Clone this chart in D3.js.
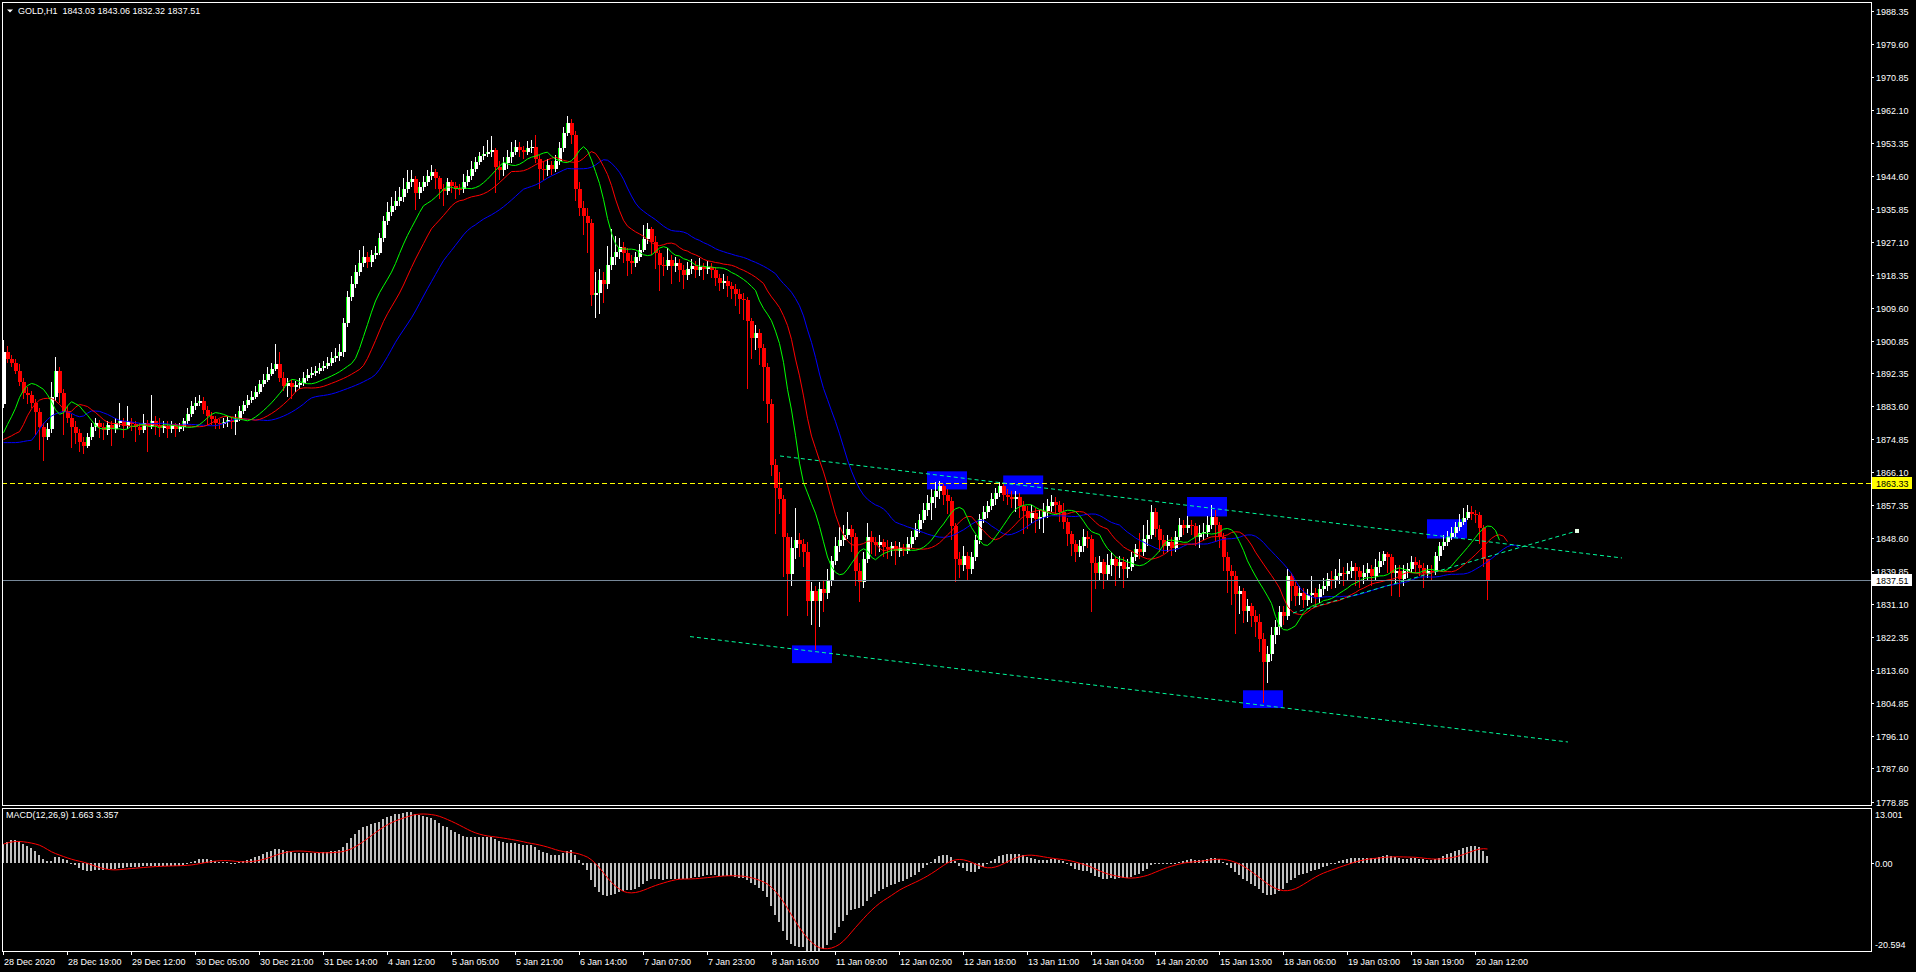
<!DOCTYPE html>
<html><head><meta charset="utf-8">
<script src="https://cdn.jsdelivr.net/npm/d3@7"></script>
<style>html,body{margin:0;padding:0;background:#000;overflow:hidden}text{font-family:"Liberation Sans",Arial,sans-serif;font-size:9px}</style>
</head><body>
<svg id="chart" width="1916" height="972"></svg>
<script>
// ---------------- DATA ----------------
const symbolTitle = "GOLD,H1  1843.03 1843.06 1832.32 1837.51";
const macdTitle = "MACD(12,26,9) 1.663 3.357";

const opens = [
1884,1898,1896,1895,1893,1890,1887,1886.5,1884.5,1882,
1878,1875.5,1877.5,1886,1893,1887,1882,1880.5,1878,1876.5,
1874,1873,1875.5,1878,1879,1878,1877.2,1878.5,1877.5,1879,
1879.5,1878.3,1879.3,1878.8,1878,1877.3,1879,1878.2,1879.6,1878.5,
1877.8,1878.4,1877.6,1878.2,1877.4,1878,1879.5,1881.5,1883.5,1884.5,
1885,1882.5,1881,1880.2,1879.2,1878.8,1879.4,1879.8,1879.3,1880.2,
1882.2,1883.8,1885.2,1886,1887.4,1889.3,1890.6,1892.2,1893.5,1894.6,
1891,1889,1889.8,1888.5,1889.2,1889.8,1891,1891.8,1892.4,1892.8,
1893.6,1894.2,1895,1896.2,1896.8,1897.8,1905.5,1912.6,1916,1919,
1921.6,1923,1921.8,1923.5,1924.2,1928,1932.5,1935,1936.5,1938,
1939,1941,1943,1943.6,1940,1941.5,1943,1944.5,1945.7,1944,
1941,1940.5,1942.8,1941.8,1941.2,1941,1942.8,1944.5,1946.5,1948.2,
1949.7,1950.3,1951,1951.5,1947,1946.2,1948,1949.5,1951,1952.3,
1951.5,1951,1952,1952.3,1949,1946.5,1946.2,1947.4,1946.4,1948.5,
1952,1956,1958.5,1955.5,1941,1936,1934,1932,1913,1913.5,
1917,1915.8,1921,1923,1924.5,1925.8,1924,1922,1921.6,1923,
1925,1927.7,1930.4,1927,1924,1921,1920.6,1922.4,1920.6,1921.6,
1919.5,1918.2,1920,1920.8,1919.5,1920.5,1919.8,1920.5,1919.6,1917.5,
1916.3,1916.8,1915.4,1914.5,1913.2,1912,1911.8,1906,1901.7,1903,
1899,1894,1884,1868,1862,1859,1849,1839,1846,1848.2,
1847,1845,1832,1834.5,1832,1835,1834,1837.6,1842.5,1846.4,
1848,1849.5,1850.9,1849,1840,1837,1843,1849,1847.5,1846.8,
1847.5,1846.3,1845.6,1846.5,1845.2,1846,1845.3,1847,1848.8,1850.9,
1853.5,1856,1858,1859.5,1861,1862.3,1860,1858.5,1851.7,1843,
1841.6,1844,1840.3,1843.5,1848,1853.6,1855.5,1857,1858.9,1860.5,
1862.3,1860,1859.6,1858.9,1859.4,1857,1855.8,1854,1855.2,1853.6,
1854.3,1855.8,1857,1858.3,1857.5,1855.4,1853,1849.6,1847,1845,
1846.5,1849,1848.5,1842,1839.5,1842.2,1839,1841.5,1843,1841.2,
1842.2,1840.3,1841,1843.5,1845.6,1844.8,1848.3,1849.5,1855.6,1850.9,
1848,1846.4,1847.7,1846,1849,1852.2,1851.4,1852,1851.7,1848.8,
1850,1850.3,1852,1854.3,1852,1849,1843.5,1840,1838.6,1833.7,
1834.5,1829.2,1830.5,1828,1826.5,1822,1815.9,1818,1823,1825,
1829,1828,1838.5,1835.8,1833.2,1834.2,1832.3,1833.5,1834,1833,
1835,1836,1837.7,1837.2,1838.5,1839.5,1839.2,1840,1841,1839.8,
1838.2,1839.5,1840.4,1838.5,1841,1842.5,1844.3,1843.5,1839.5,1839.8,
1837.7,1840,1840.3,1842.2,1841.5,1840.8,1839.5,1840,1839.8,1843.8,
1846.4,1847.5,1849,1850,1851.5,1853,1854,1855.6,1855,1854.8,
1851.4,1843.03];

const highs = [
1901,1899.5,1897,1896,1894.6,1891,1888.5,1887.5,1885.5,1883,
1879,1879,1890,1896.7,1894,1888,1883.5,1881.5,1879.5,1877.5,
1875.5,1876.5,1879,1880.5,1880,1879,1879.5,1879.5,1880.5,1884.5,
1880.5,1883.5,1880.5,1879.5,1879,1881.5,1880,1886.6,1881,1880.5,
1879.5,1879.5,1879.5,1879,1879.2,1880.5,1883,1885,1886,1886.5,
1886,1883.5,1882,1881,1880.2,1880.5,1881,1880.8,1881.5,1883.5,
1885,1886.5,1887.5,1889,1890.6,1892.2,1893.8,1895,1900,1898,
1892.5,1891,1890.5,1890.3,1891,1892.5,1893.5,1894,1894.2,1895,
1895.5,1896.5,1898,1899,1900,1907,1914,1918,1921,1925,
1926,1924.5,1925,1926,1929.5,1934,1937.5,1939,1940.5,1941.5,
1944,1946,1946,1944.5,1943,1944.5,1946,1947.5,1946.5,1944.5,
1942.5,1944,1943.5,1942.8,1942.5,1945,1946,1948.5,1949.5,1951,
1952.5,1954,1955,1952,1948.5,1949.5,1951.5,1953.5,1954,1953.5,
1952.5,1953.8,1954,1955.5,1950,1948.5,1949,1948.5,1950,1953.5,
1957.5,1960.3,1959.5,1956.5,1943,1938,1936,1933,1919,1920,
1919,1926,1930.5,1928.5,1928,1927,1925.5,1923.5,1924.5,1926.5,
1931.5,1932,1931,1928.5,1925,1923,1925.5,1923.5,1923,1922.5,
1921,1921.8,1922.5,1922,1922.8,1921.5,1922,1921.5,1920.5,1918.5,
1918.5,1918,1916.5,1916,1914.5,1913.5,1912.5,1907,1905,1904,
1900,1895,1885.5,1869.5,1866,1860,1850,1849,1856.7,1850,
1848.5,1847.5,1837,1836,1837,1837.5,1840.5,1844,1849,1851.5,
1852,1855.4,1852,1850,1842,1845,1852.5,1850.5,1849,1849.5,
1848.5,1848,1847.5,1847.8,1847.5,1847,1849,1850.5,1852.5,1855,
1858,1860,1861.5,1863.6,1863.8,1863,1861.5,1859.5,1852.5,1845,
1846.5,1845,1845,1849.5,1855,1857,1858.5,1860.5,1862,1863.6,
1863,1861.5,1861,1861,1860.5,1858.5,1857,1857.5,1856.5,1856,
1858,1859,1860,1859.5,1858.5,1858,1854,1850.5,1848,1848,
1851,1850.5,1849.5,1843.5,1844,1843,1844.5,1845,1844,1844,
1843.5,1843,1845,1847,1850,1852,1853.5,1857.5,1856.5,1852,
1849.5,1849.5,1849,1850.5,1854,1853.5,1854.5,1853.5,1852.5,1852,
1852.5,1854.5,1857.5,1856,1853,1850,1845,1841.5,1840,1836,
1835.5,1832.5,1831.5,1829.5,1828.5,1823.5,1820,1825,1827,1830.5,
1830.5,1840.5,1839.5,1837,1836,1835.5,1835,1838.5,1835.5,1836.5,
1838,1839.5,1840,1840.5,1843,1841,1842,1842.5,1842,1841,
1841.5,1842,1841.5,1843,1845,1845.3,1845,1844.5,1841.5,1841.5,
1841.5,1842,1843.8,1843.5,1842.8,1842,1841.5,1841.5,1845,1847.5,
1849.5,1850.5,1851.5,1853,1855,1856.5,1857.5,1857.2,1856,1855.5,
1852,1843.06];

const lows = [
1883,1895,1893.8,1892,1889,1885.5,1884,1883,1876,1872,
1869,1874.5,1876.5,1885,1884.5,1876,1879,1872.5,1873.5,1871.5,
1871,1872.5,1874.5,1877,1875,1874.5,1876,1873,1876.5,1878,
1875,1877.5,1877,1874,1876,1876.5,1871.5,1877.5,1876,1875.5,
1876.5,1875,1876.5,1875.5,1876.8,1877,1878.8,1880.8,1882.5,1883.5,
1881.5,1878.5,1878.5,1877.5,1877.5,1877.8,1878,1877.5,1876,1879.5,
1881.5,1883,1884.5,1885.5,1886.8,1888.5,1890,1891.5,1892.8,1890,
1887.5,1886,1885.5,1887.2,1888,1888.8,1890.2,1891,1891.5,1892,
1892.8,1893.5,1894.2,1895.2,1895.5,1896.5,1904.5,1911.5,1914.8,1918,
1920.5,1920.2,1920.5,1922.5,1923.5,1927,1931.5,1934,1935.5,1936.5,
1937.5,1940,1941.5,1935.6,1938.5,1940.5,1942,1943.5,1941,1938.3,
1936.5,1939.5,1940,1938.5,1939.5,1940,1941.8,1943.5,1945.5,1947.5,
1948.8,1949.5,1949.5,1940,1943.5,1944.5,1946.5,1948,1950,1949.5,
1949,1950,1950.5,1948,1941,1943.5,1944.5,1944.8,1945.5,1947.5,
1951,1955,1953,1938,1934,1929,1924,1910,1907,1908,
1911,1914.5,1919.5,1921,1922.5,1921.5,1918,1918.5,1920.5,1922,
1924.5,1926.5,1923.5,1920,1914,1918,1919.5,1916,1919,1916.5,
1914.5,1917,1918.5,1917.5,1918,1917,1918.5,1917.5,1915.5,1914,
1914.5,1912.5,1912,1910,1908,1906.5,1888,1896,1898.5,1894.5,
1884.8,1879,1865,1849.6,1855,1838.2,1827.9,1836,1843,1843.5,
1841,1828,1825.5,1819.1,1825,1829,1832.5,1836,1841.5,1845,
1846.5,1848.5,1845,1836,1831.6,1835.5,1842,1844.5,1844,1845,
1843.5,1843,1844,1841.5,1843.5,1843.8,1844.5,1846,1848,1850,
1852.5,1854.5,1853.5,1856.5,1859,1857.5,1855,1848,1837.1,1838,
1840,1837.5,1839,1842.5,1847,1852.5,1854,1856,1857.5,1859.5,
1858.5,1857.5,1856.5,1855.5,1854,1849.6,1851,1852.5,1850,1851,
1850,1854,1855.5,1855,1853,1851,1846.5,1844,1842.2,1843.5,
1845,1846,1829,1835,1837.5,1835,1837.5,1838.5,1836,1838,
1835.5,1838,1840,1842.5,1843,1844,1846.5,1848.5,1849,1845,
1844.5,1845,1844,1845,1848,1849.5,1850,1849.5,1846.5,1846,
1848,1849,1851,1847.5,1846,1840,1834,1831,1823.1,1828.5,
1826,1826.5,1825,1822.5,1818.5,1805,1810.3,1816,1820.5,1823,
1825.5,1827,1832,1830.5,1831,1830,1830.5,1831.5,1830.5,1831.5,
1833.5,1834.5,1835,1835.5,1836.5,1836,1837.5,1838,1836,1835.5,
1836.5,1837.5,1836,1837.5,1839.5,1841.5,1839.5,1833.2,1836.5,1833,
1836,1838,1839.5,1839.5,1838.5,1835.5,1838,1837.5,1838.8,1842.5,
1845.5,1846.5,1848,1849,1850.5,1852,1853.5,1853.5,1852.5,1847,
1841,1832.32];

const closes = [
1898,1896,1895,1893,1890,1887,1886.5,1884.5,1882,1878,
1875.5,1877.5,1886,1893,1887,1882,1880.5,1878,1876.5,1874,
1873,1875.5,1878,1879,1878,1877.2,1878.5,1877.5,1879,1879.5,
1878.3,1879.3,1878.8,1878,1877.3,1879,1878.2,1879.6,1878.5,1877.8,
1878.4,1877.6,1878.2,1877.4,1878,1879.5,1881.5,1883.5,1884.5,1885,
1882.5,1881,1880.2,1879.2,1878.8,1879.4,1879.8,1879.3,1880.2,1882.2,
1883.8,1885.2,1886,1887.4,1889.3,1890.6,1892.2,1893.5,1894.6,1891,
1889,1889.8,1888.5,1889.2,1889.8,1891,1891.8,1892.4,1892.8,1893.6,
1894.2,1895,1896.2,1896.8,1897.8,1905.5,1912.6,1916,1919,1921.6,
1923,1921.8,1923.5,1924.2,1928,1932.5,1935,1936.5,1938,1939,
1941,1943,1943.6,1940,1941.5,1943,1944.5,1945.7,1944,1941,
1940.5,1942.8,1941.8,1941.2,1941,1942.8,1944.5,1946.5,1948.2,1949.7,
1950.3,1951,1951.5,1947,1946.2,1948,1949.5,1951,1952.3,1951.5,
1951,1952,1952.3,1949,1946.5,1946.2,1947.4,1946.4,1948.5,1952,
1956,1958.5,1955.5,1941,1936,1934,1932,1913,1913.5,1917,
1915.8,1921,1923,1924.5,1925.8,1924,1922,1921.6,1923,1925,
1927.7,1930.4,1927,1924,1921,1920.6,1922.4,1920.6,1921.6,1919.5,
1918.2,1920,1920.8,1919.5,1920.5,1919.8,1920.5,1919.6,1917.5,1916.3,
1916.8,1915.4,1914.5,1913.2,1912,1911.8,1906,1901.7,1903,1899,
1894,1884,1868,1862,1859,1849,1839,1846,1848.2,1847,
1845,1832,1834.5,1832,1835,1834,1837.6,1842.5,1846.4,1848,
1849.5,1850.9,1849,1840,1837,1843,1849,1847.5,1846.8,1847.5,
1846.3,1845.6,1846.5,1845.2,1846,1845.3,1847,1848.8,1850.9,1853.5,
1856,1858,1859.5,1861,1862.3,1860,1858.5,1851.7,1843,1841.6,
1844,1840.3,1843.5,1848,1853.6,1855.5,1857,1858.9,1860.5,1862.3,
1860,1859.6,1858.9,1859.4,1857,1855.8,1854,1855.2,1853.6,1854.3,
1855.8,1857,1858.3,1857.5,1855.4,1853,1849.6,1847,1845,1846.5,
1849,1848.5,1842,1839.5,1842.2,1839,1841.5,1843,1841.2,1842.2,
1840.3,1841,1843.5,1845.6,1844.8,1848.3,1849.5,1855.6,1850.9,1848,
1846.4,1847.7,1846,1849,1852.2,1851.4,1852,1851.7,1848.8,1850,
1850.3,1852,1854.3,1852,1849,1843.5,1840,1838.6,1833.7,1834.5,
1829.2,1830.5,1828,1826.5,1822,1815.9,1818,1823,1825,1829,
1828,1838.5,1835.8,1833.2,1834.2,1832.3,1833.5,1834,1833,1835,
1836,1837.7,1837.2,1838.5,1839.5,1839.2,1840,1841,1839.8,1838.2,
1839.5,1840.4,1838.5,1841,1842.5,1844.3,1843.5,1839.5,1839.8,1837.7,
1840,1840.3,1842.2,1841.5,1840.8,1839.5,1840,1839.8,1843.8,1846.4,
1847.5,1849,1850,1851.5,1853,1854,1855.6,1855,1854.8,1851.4,
1843.03,1837.51];

// time-axis labels, one every 16 hourly bars starting at bar 0
const timeLabels = ["28 Dec 2020","28 Dec 19:00","29 Dec 12:00","30 Dec 05:00","30 Dec 21:00","31 Dec 14:00","4 Jan 12:00","5 Jan 05:00","5 Jan 21:00","6 Jan 14:00","7 Jan 07:00","7 Jan 23:00","8 Jan 16:00","11 Jan 09:00","12 Jan 02:00","12 Jan 18:00","13 Jan 11:00","14 Jan 04:00","14 Jan 20:00","15 Jan 13:00","18 Jan 06:00","19 Jan 03:00","19 Jan 19:00","20 Jan 12:00"];
const timeLabelStep = 16;

const priceTicks = ["1988.35","1979.60","1970.85","1962.10","1953.35","1944.60","1935.85","1927.10","1918.35","1909.60","1900.85","1892.35","1883.60","1874.85","1866.10","1857.35","1848.60","1839.85","1831.10","1822.35","1813.60","1804.85","1796.10","1787.60","1778.85"];
const macdTicks = ["13.001","0.00","-20.594"];
const priceDomain = [1778.85, 1988.35];
const macdDomain = [-20.594, 13.001];

const levelPrice = 1863.33;   // yellow horizontal line
const bidPrice = 1837.51;     // last price line

// Alligator lines before the first computable value
const lipsPre  = [1876.5, 1878.7, 1880.75];
const teethPre = [1874.7, 1875.2, 1875.7, 1876.3, 1876.8];
const jawPre   = [1873.9, 1873.9, 1873.9, 1873.9, 1874.0, 1874.2, 1874.4, 1874.5];
// MACD EMA states just before bar 0
const ema12Seed = 1882, ema26Seed = 1878.5;

// drawn objects (bar index / price anchors)
const boxBars0  = [197, 230.75, 249.8, 295.75, 309.75, 355.75];
const boxBars1  = [207, 240.75, 259.8, 305.75, 319.75, 365.75];
const boxPriceTop = [1820.2, 1866.3, 1865.2, 1859.5, 1808.3, 1853.6];
const boxPriceBot = [1815.5, 1861.5, 1860.2, 1854.35, 1803.6, 1848.5];
const trendBar0   = [194, 171.5, 322.25];
const trendPrice0 = [1870.36, 1822.53, 1828.78];
const trendBar1   = [404.5, 391, 393.25];
const trendPrice1 = [1843.35, 1794.61, 1850.5];

// ---------------- LAYOUT ----------------
const svg = d3.select('#chart');
const L = 2, R = 1871, mainTop = 2, mainBot = 805, macdTop = 808, macdBot = 951;
const x = d3.scaleLinear().domain([0, 466.75]).range([4, 1871]);
const y = d3.scaleLinear().domain(priceDomain).range([801.5, 10.5]);
const ym = d3.scaleLinear().domain(macdDomain).range([951, 808]);

svg.append('rect').attr('width',1916).attr('height',972).attr('fill','#000');
const defs = svg.append('defs');
defs.append('clipPath').attr('id','cm').append('rect').attr('x',L).attr('y',mainTop).attr('width',R-L).attr('height',mainBot-mainTop);
defs.append('clipPath').attr('id','cd').append('rect').attr('x',L).attr('y',macdTop).attr('width',R-L).attr('height',macdBot-macdTop);

const main = svg.append('g').attr('clip-path','url(#cm)');
const mac = svg.append('g').attr('clip-path','url(#cd)');

const n = closes.length;
const idx = d3.range(n);
const xc = i => Math.round(x(i));

// boxes (background)
main.append('g').selectAll('rect').data(d3.range(boxBars0.length)).join('rect')
  .attr('x', k => x(boxBars0[k])).attr('width', k => x(boxBars1[k]) - x(boxBars0[k]))
  .attr('y', k => y(boxPriceTop[k])).attr('height', k => y(boxPriceBot[k]) - y(boxPriceTop[k]))
  .attr('fill', '#0000ff');

// candles
const cg = main.append('g').attr('shape-rendering','crispEdges');
const isBull = i => closes[i] >= opens[i];
cg.selectAll('rect.w').data(idx).join('rect').attr('class','w')
  .attr('x', i => xc(i) - 1).attr('width', 1)
  .attr('y', i => Math.round(y(highs[i])))
  .attr('height', i => Math.max(1, Math.round(y(lows[i])) - Math.round(y(highs[i]))))
  .attr('fill', i => isBull(i) ? '#ffffff' : '#ff0000');
cg.selectAll('rect.b').data(idx).join('rect').attr('class','b')
  .attr('x', i => xc(i) - 2).attr('width', 4)
  .attr('y', i => Math.round(y(Math.max(opens[i], closes[i]))))
  .attr('height', i => Math.max(1, Math.round(y(Math.min(opens[i], closes[i]))) - Math.round(y(Math.max(opens[i], closes[i])))))
  .attr('fill', i => isBull(i) ? '#ffffff' : '#ff0000');
cg.selectAll('rect.e').data(idx.filter(isBull)).join('rect').attr('class','e')
  .attr('x', i => xc(i) - 2).attr('width', 1)
  .attr('y', i => Math.round(y(closes[i])))
  .attr('height', i => Math.max(1, Math.round(y(opens[i])) - Math.round(y(closes[i]))))
  .attr('fill', '#00ff00');

// Alligator (SMMA of median price, shifted)
const median = idx.map(i => (highs[i] + lows[i]) / 2);
function smmaLine(pre, period) {
  const out = pre.slice();
  let s = pre[pre.length - 1];
  median.forEach(m => { s = (s * (period - 1) + m) / period; out.push(s); });
  return out;
}
const jaw = smmaLine(jawPre, 13), teeth = smmaLine(teethPre, 8), lips = smmaLine(lipsPre, 5);
const pl = d3.line().x((d, j) => x(j) - 0.5).y(d => y(d));
[[jaw,'#0000ff'],[teeth,'#ff0000'],[lips,'#00ff00']].forEach(([arr,col]) => {
  main.append('path').attr('d', pl(arr)).attr('fill','none').attr('stroke',col).attr('stroke-width',1);
});

// horizontal lines
main.append('line').attr('x1',L).attr('x2',R).attr('y1',Math.round(y(bidPrice))+0.5).attr('y2',Math.round(y(bidPrice))+0.5)
  .attr('stroke','#778899').attr('stroke-width',1);
main.append('line').attr('x1',L).attr('x2',R).attr('y1',Math.round(y(levelPrice))+0.5).attr('y2',Math.round(y(levelPrice))+0.5)
  .attr('stroke','#ffff00').attr('stroke-width',1).attr('stroke-dasharray','5,3');

// trend lines
main.append('g').selectAll('line').data(d3.range(trendBar0.length)).join('line')
  .attr('x1', k => x(trendBar0[k])).attr('y1', k => y(trendPrice0[k]))
  .attr('x2', k => x(trendBar1[k])).attr('y2', k => y(trendPrice1[k]))
  .attr('stroke', '#00fa9a').attr('stroke-width', 1).attr('stroke-dasharray', '4,3');
main.append('rect').attr('x', x(trendBar1[2]) - 2).attr('y', y(trendPrice1[2]) - 2).attr('width',4).attr('height',4).attr('fill','#e8ffe8');

// MACD
let e12 = ema12Seed, e26 = ema26Seed;
const macd = closes.map(c => { e12 += (c - e12) * 2 / 13; e26 += (c - e26) * 2 / 27; return e12 - e26; });
const signal = macd.map((v, i) => d3.mean(macd.slice(Math.max(0, i - 8), i + 1)));
mac.append('g').attr('shape-rendering','crispEdges').selectAll('rect').data(idx).join('rect')
  .attr('x', i => xc(i) - 2).attr('width', 2)
  .attr('y', i => Math.round(Math.min(ym(0), ym(macd[i]))))
  .attr('height', i => Math.max(1, Math.abs(Math.round(ym(macd[i])) - Math.round(ym(0)))))
  .attr('fill', '#c0c0c0');
mac.append('path').attr('d', d3.line().x((d, i) => x(i) - 0.5).y(d => ym(d))(signal))
  .attr('fill','none').attr('stroke','#ff0000').attr('stroke-width',1);

// frames
const fr = svg.append('g').attr('fill','none').attr('stroke','#ffffff').attr('stroke-width',1).attr('shape-rendering','crispEdges');
fr.append('rect').attr('x',L+0.5).attr('y',mainTop+0.5).attr('width',R-L).attr('height',mainBot-mainTop);
fr.append('rect').attr('x',L+0.5).attr('y',macdTop+0.5).attr('width',R-L).attr('height',macdBot-macdTop);

// right price axis
const ax = svg.append('g');
priceTicks.forEach(t => {
  const yy = Math.round(y(+t));
  ax.append('line').attr('x1',R+1).attr('x2',R+3).attr('y1',yy+0.5).attr('y2',yy+0.5).attr('stroke','#fff').attr('shape-rendering','crispEdges');
  ax.append('text').attr('x',R+5).attr('y',yy+3.5).attr('fill','#fff').text(t);
});
[[levelPrice,'#ffff00'],[bidPrice,'#ffffff']].forEach(([p,col]) => {
  const yy = Math.round(y(p));
  ax.append('rect').attr('x',R+1).attr('y',yy-6).attr('width',40).attr('height',12).attr('fill',col);
  ax.append('text').attr('x',R+5).attr('y',yy+3.5).attr('fill','#000').text(p.toFixed(2));
});
// macd axis
macdTicks.forEach((t, k) => {
  const yy = k === 0 ? macdTop + 6 : (k === 2 ? macdBot - 7 : Math.round(ym(+t)));
  if (k === 1) ax.append('line').attr('x1',R+1).attr('x2',R+3).attr('y1',yy+0.5).attr('y2',yy+0.5).attr('stroke','#fff');
  ax.append('text').attr('x',R+4).attr('y',yy+3.5).attr('fill','#fff').text(t);
});

// time axis
timeLabels.forEach((t, k) => {
  const xx = xc(k * timeLabelStep) - 1;
  ax.append('line').attr('x1',xx+0.5).attr('x2',xx+0.5).attr('y1',macdBot).attr('y2',macdBot+4).attr('stroke','#fff');
  ax.append('text').attr('x',xx+1).attr('y',965).attr('fill','#fff').text(t);
});

// titles
svg.append('path').attr('d','M7,9.5 L13,9.5 L10,12.5 Z').attr('fill','#fff');
svg.append('text').attr('x',18).attr('y',14).attr('fill','#fff').attr('xml:space','preserve').style('white-space','pre').text(symbolTitle);
svg.append('text').attr('x',6).attr('y',818).attr('fill','#fff').text(macdTitle);
</script>
</body></html>
